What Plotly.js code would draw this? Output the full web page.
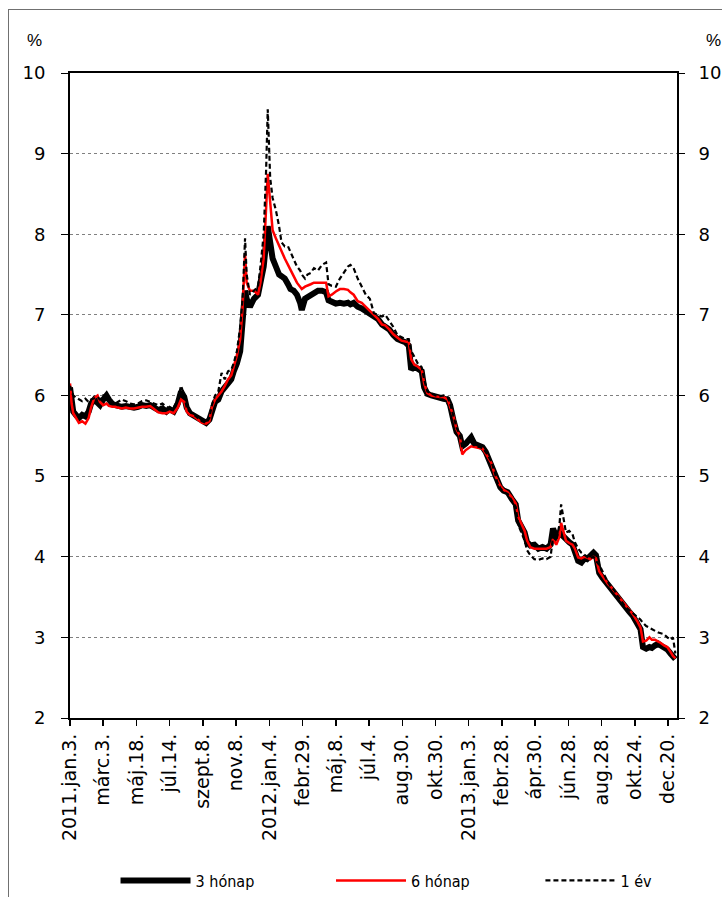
<!DOCTYPE html>
<html>
<head>
<meta charset="utf-8">
<script src="https://cdn.plot.ly/plotly-3.0.1.min.js"></script>
<style>
html,body{margin:0;padding:0;background:#fff;overflow:hidden;}
#chart{width:722px;height:897px;}
#frame{position:absolute;left:8px;top:9px;width:800px;height:1000px;border:1px solid #707070;pointer-events:none;}
</style>
</head>
<body>
<div id="chart"></div>
<div id="frame"></div>
<script>
// business-day index positions of the sampled observations
const dayIndex = [0,2,4,8,11,15,19,23,26,30,34,37,41,45,48,52,56,59,64,69,74,79,84,89,94,99,104,109,114,119,123,128,133,137,141,144,148,153,158,163,168,172,175,179,183,187,191,195,199,202,206,210,213,216,218,222,227,232,235,239,242,244,247,250,254,258,261,265,269,272,276,280,284,286,290,293,297,301,306,311,316,319,323,328,333,338,343,346,350,355,360,365,370,375,380,385,389,394,399,404,409,414,418,421,425,429,434,437,441,446,451,456,461,466,469,473,477,481,484,488,492,495,499,504,509,513,516,520,524,527,531,535,540,545,550,553,557,561,564,568,573,578,583,588,593,596,600,604,606,609,612,616,620,623,627,631,635,638,642,646,649,653,657,660,664,668,672,675,680,685,690,695,700,704,707,711,715,718,722,726,729,733,737,741,744,747];

// 3-month yields (%)
const yield3m = [6.10,5.95,5.80,5.75,5.72,5.76,5.74,5.80,5.90,5.95,5.90,5.88,5.95,6.00,5.95,5.90,5.88,5.87,5.86,5.87,5.86,5.85,5.86,5.88,5.87,5.88,5.85,5.82,5.84,5.80,5.83,5.80,5.90,6.05,5.98,5.85,5.78,5.75,5.70,5.67,5.66,5.70,5.82,5.92,5.95,6.05,6.10,6.15,6.20,6.30,6.40,6.55,6.90,7.30,7.20,7.10,7.20,7.25,7.40,7.60,7.90,8.10,7.90,7.70,7.60,7.50,7.48,7.45,7.38,7.32,7.30,7.25,7.15,7.06,7.20,7.22,7.25,7.28,7.30,7.30,7.28,7.18,7.16,7.14,7.15,7.14,7.15,7.13,7.15,7.10,7.08,7.05,7.02,6.98,6.95,6.88,6.86,6.82,6.75,6.70,6.68,6.66,6.62,6.32,6.36,6.34,6.30,6.10,6.02,6.00,5.98,5.97,5.96,5.95,5.88,5.70,5.55,5.50,5.37,5.40,5.45,5.48,5.40,5.37,5.36,5.30,5.22,5.15,5.05,4.95,4.86,4.82,4.80,4.72,4.65,4.45,4.38,4.30,4.18,4.14,4.15,4.10,4.12,4.10,4.15,4.35,4.25,4.30,4.28,4.25,4.20,4.18,4.15,4.05,3.95,3.93,3.98,3.97,4.00,4.05,4.02,3.80,3.74,3.70,3.64,3.60,3.55,3.50,3.45,3.38,3.32,3.26,3.18,3.10,2.88,2.86,2.88,2.87,2.90,2.92,2.90,2.88,2.85,2.80,2.76,2.73];

// 6-month yields (%)
const yield6m = [6.15,5.90,5.78,5.70,5.66,5.68,5.65,5.72,5.85,5.97,6.00,5.92,5.88,5.90,5.87,5.86,5.86,5.85,5.84,5.85,5.84,5.84,5.85,5.86,5.86,5.87,5.83,5.79,5.78,5.78,5.80,5.78,5.85,5.95,5.92,5.80,5.76,5.74,5.70,5.66,5.65,5.68,5.85,5.95,6.00,6.05,6.12,6.20,6.25,6.35,6.50,6.70,7.10,7.75,7.40,7.30,7.30,7.25,7.40,7.70,8.30,8.75,8.40,8.05,7.95,7.85,7.80,7.70,7.62,7.55,7.48,7.40,7.35,7.32,7.35,7.36,7.38,7.40,7.40,7.40,7.40,7.23,7.25,7.29,7.32,7.32,7.31,7.28,7.25,7.17,7.15,7.10,7.05,7.00,6.95,6.88,6.87,6.82,6.76,6.72,6.68,6.67,6.66,6.45,6.38,6.36,6.32,6.15,6.03,6.00,5.99,5.98,5.98,5.95,5.86,5.75,5.58,5.50,5.27,5.32,5.35,5.37,5.36,5.35,5.34,5.28,5.22,5.16,5.02,4.95,4.88,4.83,4.80,4.74,4.66,4.50,4.40,4.32,4.20,4.12,4.10,4.10,4.10,4.10,4.12,4.22,4.15,4.25,4.42,4.30,4.20,4.17,4.15,4.10,3.99,3.98,4.00,3.99,3.97,4.00,3.98,3.82,3.76,3.72,3.66,3.62,3.57,3.52,3.46,3.40,3.34,3.28,3.20,3.12,2.95,2.96,3.00,2.97,2.97,2.95,2.93,2.90,2.88,2.82,2.77,2.74];

// 1-year yields (%)
const yield1y = [6.12,6.05,6.00,5.97,5.95,5.93,5.96,5.92,5.95,5.97,5.98,5.95,6.00,5.98,5.94,5.92,5.90,5.92,5.95,5.93,5.90,5.89,5.90,5.93,5.94,5.92,5.90,5.88,5.90,5.86,5.84,5.85,5.95,6.12,6.00,5.85,5.80,5.76,5.72,5.68,5.66,5.72,5.88,6.00,6.05,6.28,6.20,6.30,6.32,6.40,6.55,6.85,7.20,7.95,7.50,7.25,7.30,7.35,7.60,8.00,8.80,9.55,8.70,8.45,8.30,8.10,7.90,7.85,7.85,7.78,7.68,7.60,7.55,7.50,7.45,7.50,7.52,7.58,7.55,7.62,7.65,7.38,7.36,7.35,7.45,7.52,7.60,7.62,7.58,7.45,7.35,7.25,7.20,7.02,7.00,6.98,7.00,6.92,6.85,6.75,6.72,6.70,6.70,6.55,6.48,6.40,6.35,6.20,6.05,6.02,6.00,5.99,6.00,5.98,5.90,5.75,5.60,5.52,5.35,5.38,5.40,5.42,5.38,5.36,5.35,5.30,5.24,5.18,5.05,4.93,4.85,4.80,4.78,4.70,4.62,4.40,4.30,4.20,4.08,4.02,3.97,3.96,3.98,3.97,4.00,4.25,4.20,4.40,4.65,4.45,4.30,4.32,4.28,4.18,4.10,4.05,4.02,4.00,3.98,4.00,3.95,3.90,3.82,3.75,3.68,3.62,3.58,3.52,3.46,3.38,3.34,3.30,3.26,3.22,3.18,3.14,3.12,3.10,3.08,3.06,3.05,3.04,3.00,2.97,3.00,2.80];

const tickPositions = [0,41,82,123,164,205,246,287,328,369,410,451,492,533,574,615,656,697,738];
const tickLabels = ['2011.jan.3.','márc.3.','máj.18.','júl.14.','szept.8.','nov.8.','2012.jan.4.','febr.29.','máj.8.','júl.4.','aug.30.','okt.30.','2013.jan.3.','febr.28.','ápr.30.','jún.28.','aug.28.','okt.24.','dec.20.'];
const seriesNames = ['3 hónap','6 hónap','1 év'];

const traces = [
  {x: dayIndex, y: yield3m, name: seriesNames[0], type:'scatter', mode:'lines',
   line:{color:'#000000', width:6}, legend:'legend'},
  {x: dayIndex, y: yield6m, name: seriesNames[1], type:'scatter', mode:'lines',
   line:{color:'#ff0000', width:2.5}, legend:'legend2'},
  {x: dayIndex, y: yield1y, name: seriesNames[2], type:'scatter', mode:'lines',
   line:{color:'#000000', width:2.2, dash:'5px,3px'}, legend:'legend3'},
  // invisible carrier so the right-hand axis is drawn
  {x: dayIndex, y: yield1y, yaxis:'y2', type:'scatter', mode:'lines', showlegend:false,
   hoverinfo:'skip', opacity:0, line:{width:0}}
];

const tickFont = {family:'DejaVu Sans, Verdana, sans-serif', size:18, color:'#000'};
const xFont = {family:'DejaVu Sans, Verdana, sans-serif', size:19, color:'#000'};
const legFont = {family:'DejaVu Sans Condensed, DejaVu Sans, sans-serif', size:16, color:'#000'};
function leg(x){
  return {orientation:'h', x:x, xanchor:'left', y:-0.252, yanchor:'middle', font:legFont,
          itemwidth:70, bgcolor:'rgba(0,0,0,0)', borderwidth:0};
}

const layout = {
  width:722, height:897,
  margin:{l:70, r:45, t:73, b:179, pad:0, autoexpand:false},
  paper_bgcolor:'rgba(0,0,0,0)', plot_bgcolor:'#fff',
  showlegend:true,
  legend:leg(0.075), legend2:leg(0.43), legend3:leg(0.775),
  xaxis:{range:[0,749], tickmode:'array', tickvals:tickPositions, ticktext:tickLabels,
         tickangle:-90, ticks:'outside', ticklen:6, tickwidth:1.5, tickcolor:'#000',
         showline:true, linewidth:2, linecolor:'#000', mirror:true, showgrid:false,
         zeroline:false, tickfont:xFont, automargin:false},
  yaxis:{range:[2,10], dtick:1, tick0:2, ticks:'outside', ticklen:7, tickwidth:1, tickcolor:'#000',
         showline:true, linewidth:2, linecolor:'#000', mirror:true,
         showgrid:true, gridcolor:'#808080', griddash:'dot', gridwidth:1,
         zeroline:false, tickfont:tickFont, ticklabelstandoff:12, automargin:false},
  yaxis2:{range:[2,10], dtick:1, tick0:2, overlaying:'y', side:'right', ticks:'outside', ticklen:7,
          tickwidth:1, tickcolor:'#000', showline:false, showgrid:false, zeroline:false,
          tickfont:tickFont, ticklabelstandoff:10, automargin:false},
  annotations:[
    {text:'%', xref:'paper', yref:'paper', x:-0.058, y:1.05, xanchor:'center', yanchor:'middle', showarrow:false,
     font:{family:'Liberation Sans, Arial, sans-serif', size:17, color:'#000'}},
    {text:'%', xref:'paper', yref:'paper', x:1.06, y:1.05, xanchor:'center', yanchor:'middle', showarrow:false,
     font:{family:'Liberation Sans, Arial, sans-serif', size:17, color:'#000'}}
  ]
};

Plotly.newPlot('chart', traces, layout, {staticPlot:true, displayModeBar:false});
</script>
</body>
</html>
